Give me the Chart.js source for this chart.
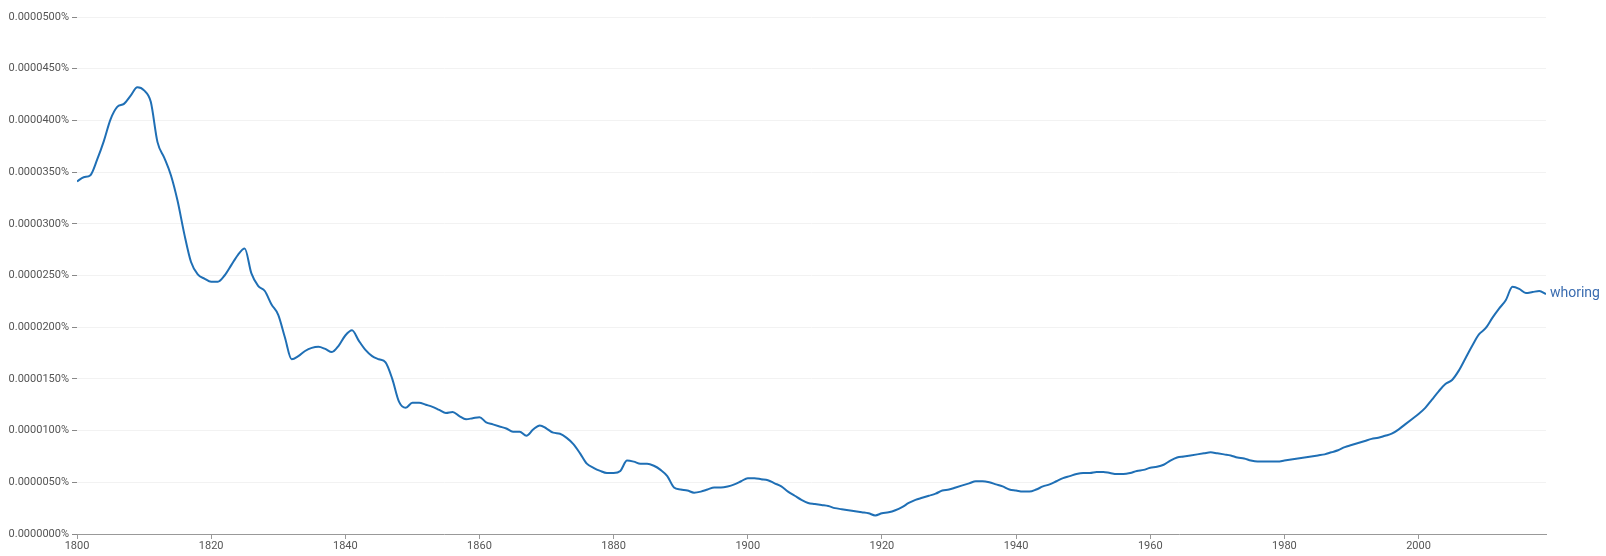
<!DOCTYPE html>
<html>
<head>
<meta charset="utf-8">
<title>whoring</title>
<script src="https://cdn.jsdelivr.net/npm/chart.js@4.4.0/dist/chart.umd.min.js"></script>
<style>
  html, body { margin: 0; padding: 0; background: #fff; }
  #wrap { width: 1606px; height: 556px; position: relative; }
</style>
</head>
<body>
<div id="wrap"><canvas id="ngramChart"></canvas></div>
<script>
// values are in units of 0.0000001 %
const UNIT = 1e-7;
const startYear = 1800;
const endYear = 2019;
const seriesLabel = 'whoring';

const whoring = [
  341, 345, 347, 362, 380, 401, 413, 416, 424, 432,   // 1800-1809
  429, 418, 379, 364, 347, 322, 290, 263, 251, 247,   // 1810-1819
  244, 244, 250, 260, 270, 276, 252, 240, 235, 222,   // 1820-1829
  212, 190, 169, 172, 177, 180, 181, 179, 176, 182,   // 1830-1839
  192, 197, 187, 178, 172, 169, 166, 150, 128, 122,   // 1840-1849
  127, 127, 125, 123, 120, 117, 118, 114, 111, 112,   // 1850-1859
  113, 108, 106, 104, 102, 99, 99, 95, 101, 105,      // 1860-1869
  102, 98, 97, 93, 87, 78, 68, 64, 61, 59,            // 1870-1879
  59, 61, 71, 70, 68, 68, 66, 62, 56, 45,             // 1880-1889
  43, 42, 40, 41, 43, 45, 45, 46, 48, 51,             // 1890-1899
  54, 54, 53, 52, 49, 46, 41, 37, 33, 30,             // 1900-1909
  29, 28, 27, 25, 24, 23, 22, 21, 20, 18,             // 1910-1919
  20, 21, 23, 26, 30, 33, 35, 37, 39, 42,             // 1920-1929
  43, 45, 47, 49, 51, 51, 50, 48, 46, 43,             // 1930-1939
  42, 41, 41, 43, 46, 48, 51, 54, 56, 58,             // 1940-1949
  59, 59, 60, 60, 59, 58, 58, 59, 61, 62,             // 1950-1959
  64, 65, 67, 71, 74, 75, 76, 77, 78, 79,             // 1960-1969
  78, 77, 76, 74, 73, 71, 70, 70, 70, 70,             // 1970-1979
  71, 72, 73, 74, 75, 76, 77, 79, 81, 84,             // 1980-1989
  86, 88, 90, 92, 93, 95, 97, 101, 106, 111,          // 1990-1999
  116, 122, 130, 138, 145, 149, 158, 170, 182, 193,   // 2000-2009
  199, 209, 218, 226, 239, 237, 233, 234, 235, 232    // 2010-2019
];

const yTicks = [0, 50, 100, 150, 200, 250, 300, 350, 400, 450, 500];
const xTickStep = 20;

const lineColor = '#1f6fb5';
const labelColor = '#3a6cb0';

const points = whoring.map((v, i) => ({ x: startYear + i, y: v }));

// draws the series name just right of the last point
const endLabel = {
  id: 'endLabel',
  afterDatasetsDraw(chart) {
    const meta = chart.getDatasetMeta(0);
    const last = meta.data[meta.data.length - 1];
    if (!last) return;
    const ctx = chart.ctx;
    ctx.save();
    ctx.font = '14px Roboto, "Open Sans", sans-serif';
    ctx.fillStyle = labelColor;
    ctx.textBaseline = 'middle';
    ctx.textAlign = 'left';
    ctx.fillText(seriesLabel, last.x + 4, last.y - 1);
    ctx.restore();
  }
};

const ctx = document.getElementById('ngramChart');
new Chart(ctx, {
  type: 'line',
  data: {
    datasets: [{
      label: seriesLabel,
      data: points,
      borderColor: lineColor,
      borderWidth: 2,
      pointRadius: 0,
      fill: false,
      cubicInterpolationMode: 'monotone'
    }]
  },
  options: {
    responsive: true,
    maintainAspectRatio: false,
    animation: false,
    layout: { padding: { top: 17, right: 60, left: 0, bottom: 0 } },
    plugins: {
      legend: { display: false },
      tooltip: { enabled: false }
    },
    scales: {
      x: {
        type: 'linear',
        min: startYear,
        max: endYear,
        afterBuildTicks(scale) {
          scale.ticks = [];
          for (let y = startYear; y <= endYear; y += xTickStep) scale.ticks.push({ value: y });
        },
        afterFit(scale) { scale.height = 22; },
        grid: { drawOnChartArea: false, tickLength: 5, tickColor: '#999', color: '#999' },
        border: { display: true, color: '#999', width: 1 },
        ticks: {
          color: '#555',
          font: { family: 'Roboto, "Open Sans", sans-serif', size: 11 },
          padding: 1,
          maxRotation: 0,
          callback: v => String(v)
        }
      },
      y: {
        min: 0,
        max: 500,
        afterBuildTicks(scale) {
          scale.ticks = yTicks.map(v => ({ value: v }));
        },
        afterFit(scale) { scale.width = 77; },
        grid: { color: '#f2f2f2', tickLength: 5, tickColor: '#888', lineWidth: 1 },
        border: { display: false },
        ticks: {
          color: '#555',
          font: { family: 'Roboto, "Open Sans", sans-serif', size: 11 },
          padding: 3,
          callback: v => (v * UNIT).toFixed(7) + '%'
        }
      }
    }
  },
  plugins: [endLabel]
});
</script>
</body>
</html>
